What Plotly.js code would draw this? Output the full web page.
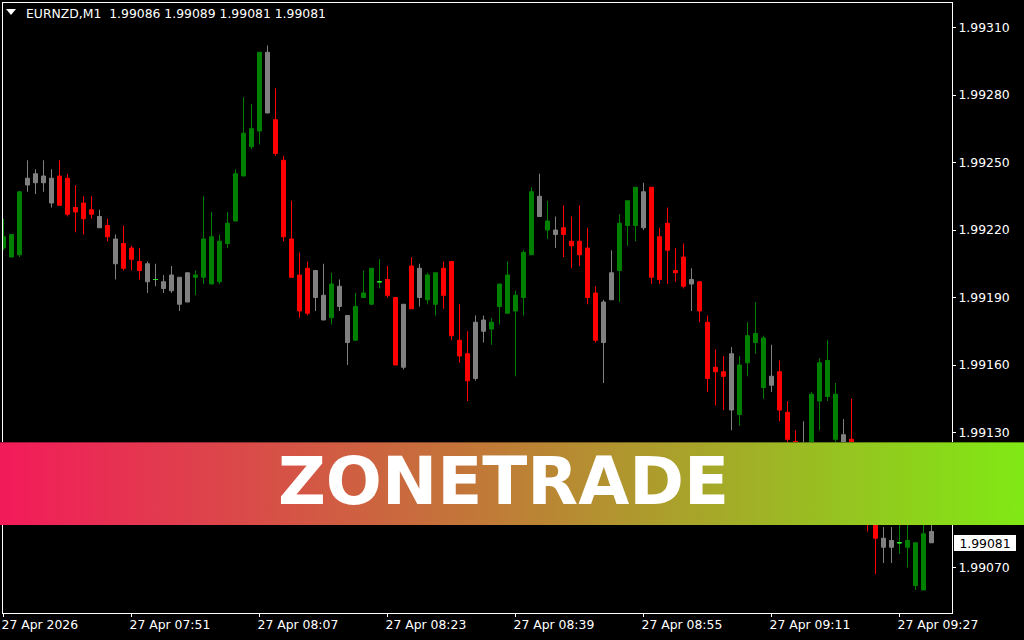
<!DOCTYPE html>
<html>
<head>
<meta charset="utf-8">
<script src="https://cdn.plot.ly/plotly-3.0.1.min.js"></script>
<style>
html,body{margin:0;padding:0;background:#000;}
#chart{width:1024px;height:640px;}
</style>
</head>
<body>
<div id="chart"></div>
<script>
// ---------- DATA ----------
const symbol = 'EURNZD,M1';
const startTime = '07:35';
const tickTimes  = ['07:35','07:51','08:07','08:23','08:39','08:55','09:11','09:27'];
const tickLabels = ['27 Apr 2026','27 Apr 07:51','27 Apr 08:07','27 Apr 08:23','27 Apr 08:39','27 Apr 08:55','27 Apr 09:11','27 Apr 09:27'];
const priceTicks = [1.99070, 1.99100, 1.99130, 1.99160, 1.99190, 1.99220, 1.99250, 1.99280, 1.99310];

// zone colour of each bar: g = green, r = red, n = neutral (grey)
const zone = ['g','g','g','n','n','n','n','r','r','r','r','r','n','r','n','r','r','r','n','n',
              'n','n','n','n','g','g','g','g','g','g','g','g','g','n','r','r','r','r','r','n',
              'n','g','n','n','g','g','g','g','r','r','n','r','n','g','g','r','r','r','r','n',
              'n','g','g','g','g','g','g','n','g','n','r','r','r','r','r','n','n','g','g','g',
              'n','r','r','r','r','r','n','r','r','r','r','n','g','g','g','g','n','r','r','r',
              'n','g','g','g','g','n','r','r','r','r','n','n','g','g','g','g','n'];
const open = [1.99212,1.99208,1.99209,1.99240,1.99241,1.99244,1.99243,1.99244,1.99243,1.99230,
              1.99232,1.99229,1.99226,1.99222,1.99216,1.99214,1.99212,1.99206,1.99205,1.99198,
              1.99197,1.99193,1.99199,1.99188,1.99199,1.99199,1.99196,1.99197,1.99214,1.99224,
              1.99244,1.99257,1.99264,1.99299,1.99269,1.99251,1.99216,1.99200,1.99203,1.99190,
              1.99191,1.99181,1.99195,1.99182,1.99171,1.99190,1.99187,1.99197,1.99198,1.99190,
              1.99159,1.99204,1.99190,1.99189,1.99187,1.99203,1.99206,1.99171,1.99165,1.99154,
              1.99180,1.99176,1.99186,1.99183,1.99184,1.99190,1.99209,1.99235,1.99220,1.99220,
              1.99221,1.99215,1.99215,1.99212,1.99192,1.99170,1.99189,1.99202,1.99222,1.99222,
              1.99221,1.99239,1.99217,1.99223,1.99202,1.99208,1.99198,1.99197,1.99179,1.99159,
              1.99157,1.99165,1.99138,1.99161,1.99170,1.99150,1.99155,1.99157,1.99139,1.99126,
              1.99118,1.99122,1.99144,1.99146,1.99127,1.99129,1.99127,1.99110,1.99100,1.99094,
              1.99083,1.99079,1.99081,1.99079,1.99062,1.99060,1.99086];
const high = [1.99225,1.99218,1.99237,1.99251,1.99247,1.99251,1.99247,1.99251,1.99245,1.99240,
              1.99235,1.99235,1.99229,1.99225,1.99218,1.99222,1.99213,1.99212,1.99206,1.99205,
              1.99200,1.99204,1.99199,1.99201,1.99202,1.99235,1.99228,1.99218,1.99228,1.99247,
              1.99279,1.99276,1.99299,1.99302,1.99283,1.99253,1.99233,1.99210,1.99206,1.99202,
              1.99205,1.99201,1.99198,1.99182,1.99192,1.99202,1.99203,1.99207,1.99204,1.99190,
              1.99187,1.99208,1.99205,1.99201,1.99201,1.99206,1.99206,1.99187,1.99175,1.99182,
              1.99182,1.99181,1.99196,1.99206,1.99193,1.99211,1.99239,1.99245,1.99233,1.99226,
              1.99231,1.99226,1.99231,1.99221,1.99195,1.99189,1.99211,1.99227,1.99233,1.99239,
              1.99241,1.99239,1.99221,1.99230,1.99212,1.99214,1.99203,1.99197,1.99182,1.99167,
              1.99164,1.99168,1.99164,1.99179,1.99188,1.99173,1.99169,1.99162,1.99144,1.99131,
              1.99135,1.99148,1.99163,1.99171,1.99152,1.99136,1.99145,1.99113,1.99104,1.99097,
              1.99088,1.99088,1.99090,1.99090,1.99081,1.99092,1.99089];
const low  = [1.99211,1.99208,1.99208,1.99237,1.99236,1.99237,1.99230,1.99231,1.99226,1.99219,
              1.99218,1.99225,1.99221,1.99215,1.99198,1.99202,1.99202,1.99198,1.99192,1.99195,
              1.99192,1.99192,1.99184,1.99188,1.99191,1.99196,1.99196,1.99196,1.99212,1.99224,
              1.99244,1.99256,1.99258,1.99272,1.99253,1.99215,1.99199,1.99181,1.99182,1.99184,
              1.99180,1.99178,1.99184,1.99160,1.99171,1.99190,1.99187,1.99194,1.99190,1.99160,
              1.99158,1.99185,1.99186,1.99187,1.99182,1.99185,1.99171,1.99161,1.99144,1.99153,
              1.99170,1.99169,1.99178,1.99183,1.99155,1.99182,1.99209,1.99226,1.99216,1.99212,
              1.99208,1.99203,1.99204,1.99187,1.99170,1.99152,1.99189,1.99188,1.99213,1.99215,
              1.99220,1.99196,1.99196,1.99196,1.99197,1.99194,1.99184,1.99179,1.99148,1.99142,
              1.99140,1.99131,1.99133,1.99155,1.99165,1.99145,1.99148,1.99135,1.99125,1.99114,
              1.99112,1.99118,1.99131,1.99144,1.99124,1.99116,1.99106,1.99097,1.99086,1.99067,
              1.99072,1.99072,1.99076,1.99070,1.99060,1.99060,1.99081];
const close = [1.99217,1.99218,1.99237,1.99243,1.99245,1.99241,1.99232,1.99231,1.99227,1.99228,
              1.99225,1.99227,1.99221,1.99217,1.99205,1.99203,1.99207,1.99202,1.99197,1.99198,
              1.99194,1.99200,1.99187,1.99201,1.99200,1.99216,1.99217,1.99215,1.99223,1.99245,
              1.99263,1.99265,1.99299,1.99272,1.99254,1.99217,1.99199,1.99184,1.99183,1.99202,
              1.99180,1.99196,1.99186,1.99170,1.99186,1.99192,1.99203,1.99197,1.99191,1.99160,
              1.99187,1.99185,1.99203,1.99200,1.99201,1.99191,1.99173,1.99164,1.99153,1.99179,
              1.99175,1.99179,1.99196,1.99200,1.99191,1.99210,1.99237,1.99226,1.99224,1.99218,
              1.99218,1.99213,1.99209,1.99190,1.99171,1.99188,1.99201,1.99223,1.99233,1.99239,
              1.99237,1.99199,1.99198,1.99211,1.99201,1.99195,1.99196,1.99184,1.99154,1.99157,
              1.99155,1.99140,1.99160,1.99173,1.99174,1.99172,1.99151,1.99140,1.99127,1.99118,
              1.99124,1.99147,1.99161,1.99162,1.99147,1.99120,1.99110,1.99100,1.99092,1.99083,
              1.99079,1.99082,1.99081,1.99082,1.99081,1.99085,1.99081];

// ---------- BUILD ----------
const pad2 = n => (n < 10 ? '0' : '') + n;
const [sh, sm] = startTime.split(':').map(Number);
const times = open.map((_, i) => { const m = sh * 60 + sm + i; return pad2(Math.floor(m / 60)) + ':' + pad2(m % 60); });

const zoneColors = { g: '#008000', r: '#FF0000', n: '#808080' };
const dojiColor = '#2EE62E';

function candleTrace(idx, color) {
  const st = { line: { color: color, width: 1 }, fillcolor: color };
  return {
    type: 'candlestick',
    x: idx.map(i => times[i]),
    open: idx.map(i => open[i]),
    high: idx.map(i => high[i]),
    low: idx.map(i => low[i]),
    close: idx.map(i => close[i]),
    increasing: st, decreasing: st,
    line: { width: 1 },
    whiskerwidth: 0,
    hoverinfo: 'skip',
    showlegend: false
  };
}
const all = open.map((_, i) => i);
const traces = ['n', 'r', 'g'].map(z => candleTrace(all.filter(i => zone[i] === z), zoneColors[z]));
// doji bars (open == close): lime cross line
const dojiIdx = all.filter(i => open[i] === close[i]);
traces.push({
  type: 'candlestick',
  x: dojiIdx.map(i => times[i]),
  open: dojiIdx.map(i => close[i]), high: dojiIdx.map(i => close[i]),
  low: dojiIdx.map(i => close[i]), close: dojiIdx.map(i => close[i]),
  increasing: { line: { color: dojiColor, width: 1 }, fillcolor: dojiColor },
  decreasing: { line: { color: dojiColor, width: 1 }, fillcolor: dojiColor },
  line: { width: 1 }, whiskerwidth: 0, hoverinfo: 'skip', showlegend: false
});

// ---------- LAYOUT ----------
const W = 1024, H = 640;
const M = { l: 3, r: 72, t: 3, b: 27 };
const PW = W - M.l - M.r, PH = H - M.t - M.b;
const px2x = p => (p - M.l) / PW;
const px2y = p => 1 - (p - M.t) / PH;

const font = 'DejaVu Sans';
const fsz = 12.4;
const last = open.length - 1;

const bannerSvg =
  "<svg xmlns='http://www.w3.org/2000/svg' width='1024' height='83' viewBox='0 0 1024 83' preserveAspectRatio='none'>" +
  "<defs><linearGradient id='g' x1='0' y1='0' x2='1' y2='0'>" +
  "<stop offset='0' stop-color='#F31A5A'/><stop offset='0.5' stop-color='#BE7F36'/><stop offset='1' stop-color='#80E914'/>" +
  "</linearGradient></defs><rect x='0' y='0' width='1024' height='83' fill='url(#g)'/>" +
  "<rect x='0' y='0' width='1024' height='1' fill='#000' fill-opacity='0.35'/></svg>";

const layout = {
  width: W, height: H,
  margin: M,
  paper_bgcolor: '#000', plot_bgcolor: '#000',
  showlegend: false,
  boxgap: 0.5, boxgroupgap: 0,
  font: { family: font, size: fsz, color: '#FFFFFF' },
  xaxis: {
    type: 'category', categoryorder: 'array', categoryarray: times,
    range: [-0.0625, -0.0625 + PW / 8],
    rangeslider: { visible: false },
    showgrid: false, zeroline: false,
    showline: true, mirror: true, linecolor: '#FFFFFF', linewidth: 1,
    ticks: 'outside', ticklen: 3, tickwidth: 1, tickcolor: '#FFFFFF',
    tickmode: 'array', tickvals: tickTimes, ticktext: tickLabels,
    ticklabelposition: 'outside right', ticklabelshift: -3,
    tickfont: { family: font, size: fsz, color: '#FFFFFF' },
    fixedrange: true
  },
  yaxis: {
    side: 'right',
    range: [1.99190 - 315.5 / 225000, 1.99190 + 294.5 / 225000],
    showgrid: false, zeroline: false,
    showline: true, mirror: true, linecolor: '#FFFFFF', linewidth: 1,
    ticks: 'outside', ticklen: 3, tickwidth: 1, tickcolor: '#FFFFFF',
    tickmode: 'array', tickvals: priceTicks, ticktext: priceTicks.map(v => v.toFixed(5)),
    tickfont: { family: font, size: fsz, color: '#FFFFFF' },
    fixedrange: true
  },
  images: [{
    source: 'data:image/svg+xml;charset=utf-8,' + encodeURIComponent(bannerSvg),
    xref: 'paper', yref: 'paper',
    x: px2x(0), y: px2y(442), sizex: W / PW, sizey: 83 / PH,
    xanchor: 'left', yanchor: 'top', sizing: 'stretch', layer: 'above'
  }],
  shapes: [{
    type: 'path', xref: 'paper', yref: 'paper', line: { width: 0 }, fillcolor: '#FFFFFF',
    path: 'M ' + px2x(6) + ',' + px2y(9) + ' L ' + px2x(16) + ',' + px2y(9) + ' L ' + px2x(11) + ',' + px2y(15) + ' Z'
  }],
  annotations: [
    {
      text: symbol + '\u00a0\u00a0' + [open[last], high[last], low[last], close[last]].map(v => v.toFixed(5)).join(' '),
      xref: 'paper', yref: 'paper', x: px2x(24), y: px2y(14),
      xanchor: 'left', yanchor: 'middle', showarrow: false,
      font: { family: font, size: fsz, color: '#FFFFFF' }
    },
    {
      text: close[last].toFixed(5),
      xref: 'paper', yref: 'y', x: px2x(954), y: close[last],
      xanchor: 'left', yanchor: 'middle', showarrow: false,
      bgcolor: '#FFFFFF', borderwidth: 0, borderpad: 0, width: 62, height: 16, align: 'center',
      font: { family: font, size: fsz, color: '#000000' }
    },
    {
      text: 'ZONETRADE',
      xref: 'paper', yref: 'paper', x: px2x(503.5), y: px2y(481),
      xanchor: 'center', yanchor: 'middle', showarrow: false,
      font: { family: font, size: 66, color: '#FFFFFF', weight: 'bold' }
    }
  ]
};

Plotly.newPlot('chart', traces, layout, { staticPlot: true, displayModeBar: false });
</script>
</body>
</html>
